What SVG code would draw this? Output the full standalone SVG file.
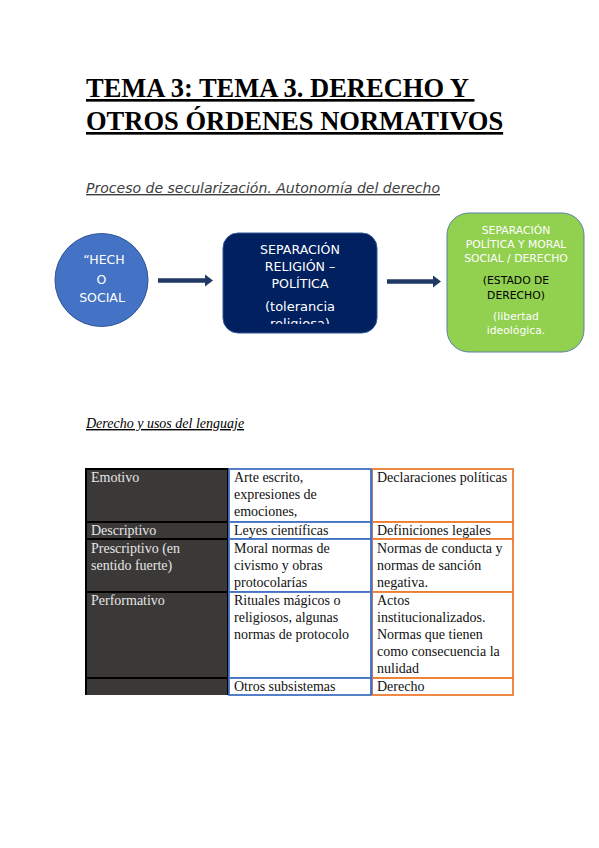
<svg xmlns="http://www.w3.org/2000/svg" width="599" height="848" viewBox="0 0 599 848">
<style>
.title{font-family:"Liberation Serif",serif;font-weight:bold;font-size:26.5px;fill:#000;text-decoration:underline;white-space:pre}
.sub{font-family:"DejaVu Sans",sans-serif;font-style:italic;font-size:14px;fill:#404040;text-decoration:underline}
.sub2{font-family:"Liberation Serif",serif;font-style:italic;font-size:14px;fill:#000;text-decoration:underline}
.nt{font-family:"DejaVu Sans",sans-serif;fill:#fff;text-anchor:middle}
.cell{font-family:"Liberation Serif",serif;font-size:14px;fill:#111}
.hcell{font-family:"Liberation Serif",serif;font-size:14px;fill:#e6e6e6}
.dk{fill:#3b3838;stroke:#000;stroke-width:2}
.bl{fill:#fff;stroke:#4472c4;stroke-width:1.8}
.or{fill:#fff;stroke:#ed7d31;stroke-width:1.8}
.conn{stroke:#1f3864;stroke-width:4.5;fill:none}
</style>
<defs>
<marker id="ah" markerUnits="userSpaceOnUse" markerWidth="10" markerHeight="14" refX="1" refY="6" orient="auto" viewBox="0 0 10 12">
<path d="M0,0 L8,6 L0,12 Z" fill="#1f3864"/>
</marker>
<clipPath id="c2"><rect x="223" y="233" width="154" height="91"/></clipPath>
</defs>
<rect width="599" height="848" fill="#fff"/>
<text class="title" x="86" y="97">TEMA 3: TEMA 3. DERECHO Y </text>
<text class="title" x="86" y="130">OTROS ÓRDENES NORMATIVOS</text>
<text class="sub" x="86" y="193" textLength="354" lengthAdjust="spacingAndGlyphs">Proceso de secularización. Autonomía del derecho</text>

<g id="connectors">
<path class="conn" d="M158,280.5 H206" marker-end="url(#ah)"/>
<path class="conn" d="M387,281.5 H434" marker-end="url(#ah)"/>
</g>

<g id="hecho-social">
<circle cx="101.5" cy="280" r="46.5" fill="#4472c4" stroke="#2f5597" stroke-width="1"/>
<text class="nt" font-size="12.5" x="104" y="264">“HECH</text>
<text class="nt" font-size="12.5" x="101.5" y="284">O</text>
<text class="nt" font-size="12.5" x="102" y="302">SOCIAL</text>
</g>

<g id="separacion-religion">
<rect x="223" y="233" width="154" height="100" rx="15" fill="#002060" stroke="#2f5597" stroke-width="1"/>
<g clip-path="url(#c2)">
<text class="nt" font-size="12.6" x="300" y="254">SEPARACIÓN</text>
<text class="nt" font-size="12.6" x="300" y="271">RELIGIÓN –</text>
<text class="nt" font-size="12.6" x="300" y="288">POLÍTICA</text>
<text class="nt" font-size="13" x="300" y="311">(tolerancia</text>
<text class="nt" font-size="13" x="300" y="328">religiosa)</text>
</g>
</g>

<g id="separacion-politica">
<rect x="447" y="213" width="137" height="139" rx="22" fill="#92d050" stroke="#5b7fa6" stroke-width="1"/>
<text class="nt" font-size="10.8" x="516" y="234">SEPARACIÓN</text>
<text class="nt" font-size="10.8" x="516" y="248">POLÍTICA Y MORAL</text>
<text class="nt" font-size="10.8" x="516" y="262">SOCIAL / DERECHO</text>
<text class="nt" font-size="10.8" x="516" y="284" style="fill:#000">(ESTADO DE</text>
<text class="nt" font-size="10.8" x="516" y="299" style="fill:#000">DERECHO)</text>
<text class="nt" font-size="10.8" x="516" y="320">(libertad</text>
<text class="nt" font-size="10.8" x="516" y="334">ideológica.</text>
</g>

<text class="sub2" x="86" y="428">Derecho y usos del lenguaje</text>

<g id="tabla">
<rect class="dk" x="86" y="469" width="142" height="53"/>
<rect class="dk" x="86" y="522" width="142" height="17"/>
<rect class="dk" x="86" y="539" width="142" height="53"/>
<rect class="dk" x="86" y="592" width="142" height="86"/>
<rect x="86" y="678" width="142" height="17" fill="#3b3838"/>
<line x1="86" y1="678" x2="228" y2="678" stroke="#000" stroke-width="2"/>
<line x1="86" y1="678" x2="86" y2="695" stroke="#000" stroke-width="2"/>
<line x1="228" y1="678" x2="228" y2="695" stroke="#000" stroke-width="2"/>

<rect class="bl" x="229" y="469" width="142" height="53"/>
<rect class="bl" x="229" y="522" width="142" height="17"/>
<rect class="bl" x="229" y="539" width="142" height="53"/>
<rect class="bl" x="229" y="592" width="142" height="86"/>
<rect class="bl" x="229" y="678" width="142" height="17"/>

<rect class="or" x="372" y="469" width="141" height="53"/>
<rect class="or" x="372" y="522" width="141" height="17"/>
<rect class="or" x="372" y="539" width="141" height="53"/>
<rect class="or" x="372" y="592" width="141" height="86"/>
<rect class="or" x="372" y="678" width="141" height="17"/>
<line x1="371.5" y1="469" x2="371.5" y2="695" stroke="#4472c4" stroke-width="1.8"/>

<text class="hcell" x="91" y="482">Emotivo</text>
<text class="hcell" x="91" y="535">Descriptivo</text>
<text class="hcell" x="91" y="553">Prescriptivo (en</text>
<text class="hcell" x="91" y="570">sentido fuerte)</text>
<text class="hcell" x="91" y="605">Performativo</text>

<text class="cell" x="234" y="482">Arte escrito,</text>
<text class="cell" x="234" y="499">expresiones de</text>
<text class="cell" x="234" y="516">emociones,</text>
<text class="cell" x="234" y="535">Leyes científicas</text>
<text class="cell" x="234" y="553">Moral normas de</text>
<text class="cell" x="234" y="570">civismo y obras</text>
<text class="cell" x="234" y="587">protocolarías</text>
<text class="cell" x="234" y="605">Rituales mágicos o</text>
<text class="cell" x="234" y="622">religiosos, algunas</text>
<text class="cell" x="234" y="639">normas de protocolo</text>
<text class="cell" x="234" y="691">Otros subsistemas</text>

<text class="cell" x="377" y="482">Declaraciones políticas</text>
<text class="cell" x="377" y="535">Definiciones legales</text>
<text class="cell" x="377" y="553">Normas de conducta y</text>
<text class="cell" x="377" y="570">normas de sanción</text>
<text class="cell" x="377" y="587">negativa.</text>
<text class="cell" x="377" y="605">Actos</text>
<text class="cell" x="377" y="622">institucionalizados.</text>
<text class="cell" x="377" y="639">Normas que tienen</text>
<text class="cell" x="377" y="656">como consecuencia la</text>
<text class="cell" x="377" y="673">nulidad</text>
<text class="cell" x="377" y="691">Derecho</text>
</g>
</svg>
